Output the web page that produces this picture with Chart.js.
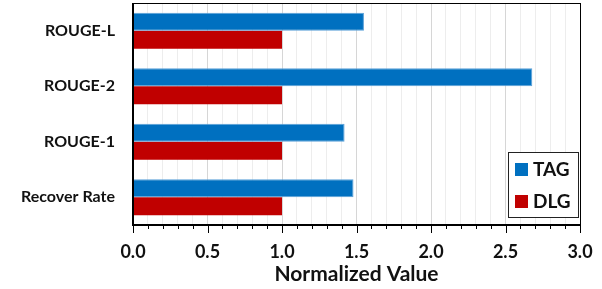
<!DOCTYPE html>
<html><head><meta charset="utf-8">
<script src="https://cdn.jsdelivr.net/npm/chart.js@4"></script>
<style>html,body{margin:0;padding:0;background:#fff}#wrap{width:602px;height:289px}</style>
</head><body><div id="wrap"><canvas id="c" width="602" height="289"></canvas></div>
<script>
const categories = ["ROUGE-L", "ROUGE-2", "ROUGE-1", "Recover Rate"];
const tagValues = [1.55, 2.68, 1.42, 1.48];
const dlgValues = [1.0, 1.0, 1.0, 1.0];
const seriesNames = ["TAG", "DLG"];
const xTicks = [0.0, 0.5, 1.0, 1.5, 2.0, 2.5, 3.0];
const FONT = "Lato, 'Open Sans', sans-serif";
const BLUE = "#0070C0", RED = "#C00000";

const frame = {
  id: 'frame',
  afterDatasetsDraw(chart) {
    const {ctx, chartArea: a, scales: {x}} = chart;
    ctx.save();
    ctx.strokeStyle = '#000'; ctx.lineWidth = 1;
    ctx.strokeRect(a.left + 0.5, a.top + 0.5, a.right - a.left, a.bottom - a.top);
    ctx.lineWidth = 2;
    ctx.beginPath(); ctx.moveTo(a.left, a.top); ctx.lineTo(a.left, a.bottom); ctx.lineTo(a.right, a.bottom); ctx.stroke();
    ctx.lineWidth = 1;
    for (let i = 0; i <= 30; i++) {
      const px = Math.round(x.getPixelForValue(i / 10)) + 0.5;
      const major = i % 5 === 0;
      ctx.beginPath(); ctx.moveTo(px, a.bottom); ctx.lineTo(px, a.bottom + (major ? 8 : 4)); ctx.stroke();
    }
    const lx = 508, ly = 152, lw = 70, lh = 65;
    ctx.fillStyle = '#fff'; ctx.fillRect(lx, ly, lw, lh);
    ctx.strokeStyle = '#222'; ctx.lineWidth = 1;
    ctx.strokeRect(lx + 0.5, ly + 0.5, lw, lh);
    const cols = [BLUE, RED];
    ctx.font = "bold 19px " + FONT; ctx.textBaseline = 'middle';
    seriesNames.forEach((n, i) => {
      const cy = ly + 17 + i * 32;
      ctx.fillStyle = cols[i]; ctx.fillRect(lx + 7, cy - 6, 13, 13);
      ctx.fillStyle = '#111'; ctx.fillText(n, lx + 25, cy + 1);
    });
    ctx.restore();
  }
};

new Chart(document.getElementById('c'), {
  type: 'bar',
  data: {
    labels: categories,
    datasets: [
      {label: seriesNames[0], data: tagValues, backgroundColor: BLUE, borderColor: '#5aa0d8', borderWidth: 1, barPercentage: 1.0, categoryPercentage: 0.65},
      {label: seriesNames[1], data: dlgValues, backgroundColor: RED, borderWidth: 0, barPercentage: 1.0, categoryPercentage: 0.65}
    ]
  },
  options: {
    indexAxis: 'y',
    responsive: false,
    animation: false,
    devicePixelRatio: 1,
    layout: {padding: {top: 3, right: 22, bottom: 0, left: 0}},
    plugins: {legend: {display: false}, tooltip: {enabled: false}},
    scales: {
      x: {
        min: 0, max: 3,
        afterBuildTicks(s) { s.ticks = Array.from({length: 31}, (_, i) => ({value: i / 10})); },
        ticks: {
          autoSkip: false, maxRotation: 0, color: '#111', padding: 16,
          font: {family: FONT, weight: 'bold', size: 18},
          callback(v) { const r = Math.round(v * 10); return r % 5 === 0 ? (r / 10).toFixed(1) : ''; }
        },
        grid: {drawTicks: false, color: ctx => (ctx.index % 5 === 0 ? '#d6d6d6' : '#ededed'), lineWidth: 1},
        border: {display: false},
        title: {display: true, text: 'Normalized Value', color: '#111', font: {family: FONT, weight: 'bold', size: 21}, padding: {top: 0, bottom: 2}},
        afterFit(s) { s.height = 64; s.paddingLeft = 0; s.paddingRight = 0; }
      },
      y: {
        ticks: {color: '#111', padding: 18, font: {family: FONT, weight: 'bold', size: 16}},
        grid: {display: false, drawTicks: false},
        border: {display: false},
        afterFit(s) { s.width = 133; s.paddingTop = 0; s.paddingBottom = 0; }
      }
    }
  },
  plugins: [frame]
});
</script></body></html>
